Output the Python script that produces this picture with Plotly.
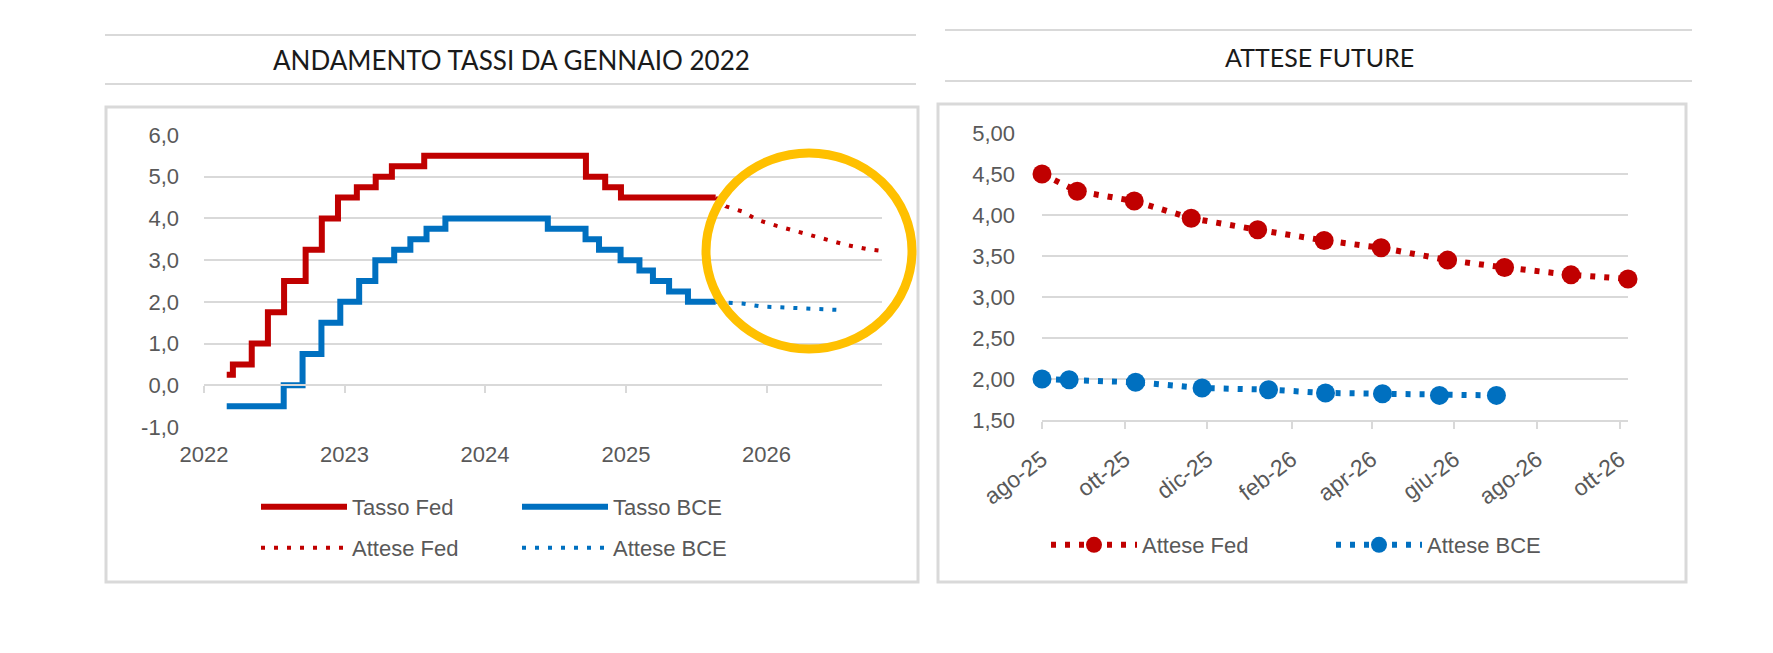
import plotly.graph_objects as go

W, H = 1773, 653
OFF = 8  # margine del body nella pagina html

# tasso Fed (limite superiore) e tasso depositi BCE, date dei cambi
fed_dates = ["2022-03-01", "2022-03-17", "2022-05-05", "2022-06-16", "2022-07-28",
             "2022-09-22", "2022-11-03", "2022-12-15", "2023-02-02", "2023-03-23",
             "2023-05-04", "2023-07-27", "2024-09-19", "2024-11-08", "2024-12-19",
             "2025-08-22"]
fed_rate = [0.25, 0.50, 1.00, 1.75, 2.50, 3.25, 4.00, 4.50, 4.75, 5.00,
            5.25, 5.50, 5.00, 4.75, 4.50, 4.50]

bce_dates = ["2022-03-01", "2022-07-27", "2022-09-14", "2022-11-02", "2022-12-21",
             "2023-02-08", "2023-03-22", "2023-05-10", "2023-06-21", "2023-08-02",
             "2023-09-20", "2024-06-12", "2024-09-18", "2024-10-23", "2024-12-18",
             "2025-02-05", "2025-03-12", "2025-04-23", "2025-06-11", "2025-08-22"]
bce_rate = [-0.50, 0.00, 0.75, 1.50, 2.00, 2.50, 3.00, 3.25, 3.50, 3.75,
            4.00, 3.75, 3.50, 3.25, 3.00, 2.75, 2.50, 2.25, 2.00, 2.00]

# attese di mercato alle prossime riunioni
fed_exp_dates = ["2025-08-22", "2025-09-17", "2025-10-29", "2025-12-10", "2026-01-28",
                 "2026-03-18", "2026-04-29", "2026-06-17", "2026-07-29", "2026-09-16",
                 "2026-10-28"]
fed_exp = [4.50, 4.29, 4.17, 3.96, 3.82, 3.69, 3.60, 3.45, 3.36, 3.27, 3.22]

bce_exp_dates = ["2025-08-22", "2025-09-11", "2025-10-30", "2025-12-18", "2026-02-05",
                 "2026-03-19", "2026-04-30", "2026-06-11", "2026-07-23"]
bce_exp = [2.00, 1.99, 1.96, 1.89, 1.87, 1.83, 1.82, 1.80, 1.80]

year_ticks = ["2022-01-01", "2023-01-01", "2024-01-01", "2025-01-01", "2026-01-01"]
year_labels = ["2022", "2023", "2024", "2025", "2026"]
rate_ticks = [-1, 0, 1, 2, 3, 4, 5, 6]
rate_labels = ["-1,0", "0,0", "1,0", "2,0", "3,0", "4,0", "5,0", "6,0"]
month_ticks = ["2025-08-22", "2025-10-22", "2025-12-22", "2026-02-22",
               "2026-04-22", "2026-06-22", "2026-08-22", "2026-10-22"]
month_labels = ["ago-25", "ott-25", "dic-25", "feb-26",
                "apr-26", "giu-26", "ago-26", "ott-26"]

RED = "#C00000"
BLUE = "#0070C0"
GRID = "#D9D9D9"
TEXT = "#595959"
FONT = "Liberation Sans, Arial, sans-serif"
TITLE_FONT = "Lato, Liberation Sans, sans-serif"


def px(x):
    return (x - OFF) / W


def py(y):
    return 1 - (y - OFF) / H


left_y = [py(427), py(135)]
left_range = [-1, 6]
zero_pos = left_y[0] + (0 - left_range[0]) / (left_range[1] - left_range[0]) * (left_y[1] - left_y[0])

fig = go.Figure()

fig.add_trace(go.Scatter(x=fed_dates, y=fed_rate, name="Tasso Fed", mode="lines",
                         line=dict(color=RED, width=6, shape="hv"), legend="legend"))
fig.add_trace(go.Scatter(x=bce_dates, y=bce_rate, name="Tasso BCE", mode="lines",
                         line=dict(color=BLUE, width=6, shape="hv"), legend="legend"))
fig.add_trace(go.Scatter(x=fed_exp_dates, y=fed_exp, name="Attese Fed", mode="lines",
                         line=dict(color=RED, width=4, dash="4px,9px"), legend="legend2"))
fig.add_trace(go.Scatter(x=bce_exp_dates, y=bce_exp, name="Attese BCE", mode="lines",
                         line=dict(color=BLUE, width=4, dash="4px,9px"), legend="legend2"))
# asse orizzontale sullo zero (solo tacche)
fig.add_trace(go.Scatter(x=[], y=[], xaxis="x3", yaxis="y", showlegend=False, hoverinfo="skip"))

fig.add_trace(go.Scatter(x=fed_exp_dates, y=fed_exp, name="Attese Fed", mode="lines+markers",
                         line=dict(color=RED, width=6, dash="5px,9px"),
                         marker=dict(color=RED, size=19), cliponaxis=False,
                         xaxis="x2", yaxis="y2", legend="legend3"))
fig.add_trace(go.Scatter(x=bce_exp_dates, y=bce_exp, name="Attese BCE", mode="lines+markers",
                         line=dict(color=BLUE, width=6, dash="5px,9px"),
                         marker=dict(color=BLUE, size=19), cliponaxis=False,
                         xaxis="x2", yaxis="y2", legend="legend3"))

tick_font = dict(family=FONT, size=22, color=TEXT)
legend_common = dict(orientation="h", xanchor="left", yanchor="middle",
                     font=dict(family=FONT, size=22, color=TEXT),
                     bgcolor="rgba(0,0,0,0)", entrywidthmode="pixels", itemwidth=86,
                     itemclick=False, itemdoubleclick=False)

frame = dict(color=GRID, width=3)
rule = dict(color=GRID, width=2)
shapes = [
    # cornici dei due pannelli
    dict(type="rect", xref="paper", yref="paper", x0=px(106), x1=px(918), y0=py(582), y1=py(107),
         line=frame, layer="below"),
    dict(type="rect", xref="paper", yref="paper", x0=px(938), x1=px(1686), y0=py(582), y1=py(104),
         line=frame, layer="below"),
    # righe sopra e sotto i titoli
    dict(type="line", xref="paper", yref="paper", x0=px(105), x1=px(916), y0=py(35), y1=py(35), line=rule),
    dict(type="line", xref="paper", yref="paper", x0=px(105), x1=px(916), y0=py(84), y1=py(84), line=rule),
    dict(type="line", xref="paper", yref="paper", x0=px(945), x1=px(1692), y0=py(30), y1=py(30), line=rule),
    dict(type="line", xref="paper", yref="paper", x0=px(945), x1=px(1692), y0=py(81), y1=py(81), line=rule),
    # cerchio evidenziatore
    dict(type="circle", xref="paper", yref="paper", x0=px(706), x1=px(912), y0=py(349), y1=py(153),
         line=dict(color="#FFC000", width=9), layer="above"),
]

fig.update_layout(
    template="none",
    width=W, height=H,
    margin=dict(l=0, r=0, t=0, b=0, pad=0, autoexpand=False),
    paper_bgcolor="white", plot_bgcolor="white",
    separators=",.",
    font=dict(family=FONT, color=TEXT),
    shapes=shapes,
    annotations=[
        dict(text="ANDAMENTO TASSI DA GENNAIO 2022", xref="paper", yref="paper",
             x=px(511), y=py(60), showarrow=False, xanchor="center", yanchor="middle",
             font=dict(family=TITLE_FONT, size=26, color="#1A1A1A")),
        dict(text="ATTESE FUTURE", xref="paper", yref="paper",
             x=px(1319), y=py(57), showarrow=False, xanchor="center", yanchor="middle",
             font=dict(family=TITLE_FONT, size=25, color="#1A1A1A")),
    ],
    xaxis=dict(domain=[px(204), px(882)], anchor="y", type="date",
               range=["2022-01-01", "2026-10-28"],
               tickvals=year_ticks, ticktext=year_labels, tickfont=tick_font,
               showgrid=False, showline=False, ticks="", ticklabelstandoff=12,
               zeroline=False, automargin=False, fixedrange=True),
    xaxis3=dict(overlaying="x", anchor="free", position=zero_pos, type="date",
                range=["2022-01-01", "2026-10-28"], tickvals=year_ticks,
                showticklabels=False, showgrid=False, zeroline=False,
                showline=True, linecolor=GRID, linewidth=2, automargin=False,
                ticks="outside", ticklen=7, tickwidth=2, tickcolor=GRID, fixedrange=True),
    yaxis=dict(domain=left_y, anchor="x", range=left_range,
               tickvals=rate_ticks, ticktext=rate_labels,
               tickfont=tick_font, gridcolor=GRID, gridwidth=2,
               zeroline=False, showline=False, ticks="", ticklabelstandoff=24,
               automargin=False, fixedrange=True),
    xaxis2=dict(domain=[px(1042), px(1628)], anchor="y2", type="date",
                range=["2025-08-22", "2026-10-28"],
                tickvals=month_ticks, ticktext=month_labels, tickangle=-37,
                tickfont=dict(family=FONT, size=23, color=TEXT),
                showgrid=False, zeroline=False, showline=True, linecolor=GRID, linewidth=2,
                ticks="outside", ticklen=7, tickwidth=2, tickcolor=GRID,
                ticklabelstandoff=8, automargin=False, fixedrange=True),
    yaxis2=dict(domain=[py(420), py(133)], anchor="x2", range=[1.5, 5], dtick=0.5, tick0=0,
                tickformat=".2f", tickfont=tick_font, gridcolor=GRID, gridwidth=2,
                zeroline=False, showline=False, ticks="", ticklabelstandoff=26,
                automargin=False, fixedrange=True),
    legend=dict(legend_common, x=px(256), y=py(507), entrywidth=160),
    legend2=dict(legend_common, x=px(256), y=py(548), entrywidth=160),
    legend3=dict(legend_common, x=px(1046), y=py(545), entrywidth=184),
)

fig.write_html("out.html")
